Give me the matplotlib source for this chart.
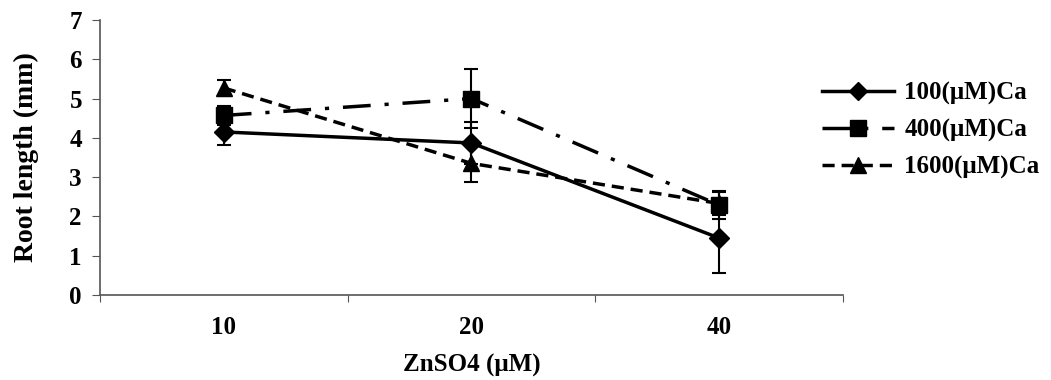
import matplotlib
matplotlib.use("Agg")
import matplotlib.pyplot as plt
from matplotlib.lines import Line2D
import numpy as np

categories = ["10", "20", "40"]
series_names = ["100(\u03bcM)Ca", "400(\u03bcM)Ca", "1600(\u03bcM)Ca"]
vals_100 = [4.15, 3.87, 1.45]
err_100 = [0.33, 0.53, 0.9]
vals_400 = [4.57, 5.0, 2.29]
err_400 = [0.25, 0.75, 0.36]
vals_1600 = [5.27, 3.35, 2.33]
err_1600 = [0.2, 0.47, 0.3]

plt.rcParams['font.family'] = ['Liberation Serif', 'DejaVu Serif']
plt.rcParams['font.weight'] = 'bold'

fig = plt.figure(figsize=(10.51, 3.80), dpi=100)
ax = fig.add_axes([0.0951, 0.2237, 0.7069, 0.7237])

x = np.arange(len(categories))
styles = [
    dict(marker='D', ls='-', ms=10),
    dict(marker='s', ls=(0, (8, 4, 1.2, 4)), ms=12),
    dict(marker='^', ls=(0, (3.5, 2)), ms=12),
]
data = [(vals_100, err_100), (vals_400, err_400), (vals_1600, err_1600)]
handles = []
for (v, e), st, name in zip(data, styles, series_names):
    ax.errorbar(x, v, yerr=e, color='black', lw=2.5, capsize=5, capthick=1.5,
                elinewidth=1.5, marker=st['marker'], ms=st['ms'], ls=st['ls'],
                mfc='black', mec='black')
    handles.append(Line2D([], [], color='black', lw=2.5, ls=st['ls'],
                          marker=st['marker'], ms=st['ms'] - 1, label=name))

ax.set_xlim(-0.5, 2.5)
ax.set_ylim(0, 7)
ax.set_yticks(range(0, 8))
ax.set_xticks([-0.5, 0.5, 1.5, 2.5])
ax.set_xticklabels([])
ax.set_xticks(x, minor=True)
ax.set_xticklabels(categories, minor=True)
ax.tick_params(axis='x', which='minor', length=0, pad=15, labelsize=18)
ax.tick_params(axis='x', which='major', length=5, direction='out', color='#555555')
ax.tick_params(axis='y', length=6, direction='out', labelsize=18, color='#555555', pad=7)
for s in ['top', 'right']:
    ax.spines[s].set_visible(False)
for s in ['left', 'bottom']:
    ax.spines[s].set_color('#555555')
    ax.spines[s].set_linewidth(1.2)

ax.set_ylabel("Root length (mm)", fontsize=20, fontweight='bold', labelpad=22)
ax.set_xlabel("ZnSO4 (\u03bcM)", fontsize=18, fontweight='bold', labelpad=11)

leg = fig.legend(handles=handles, loc='upper left', bbox_to_anchor=(0.782, 0.785),
                 frameon=False, fontsize=18, handlelength=2.9, handletextpad=0.4,
                 labelspacing=0.55, borderaxespad=0, borderpad=0)

fig.savefig("out.png", dpi=100)
